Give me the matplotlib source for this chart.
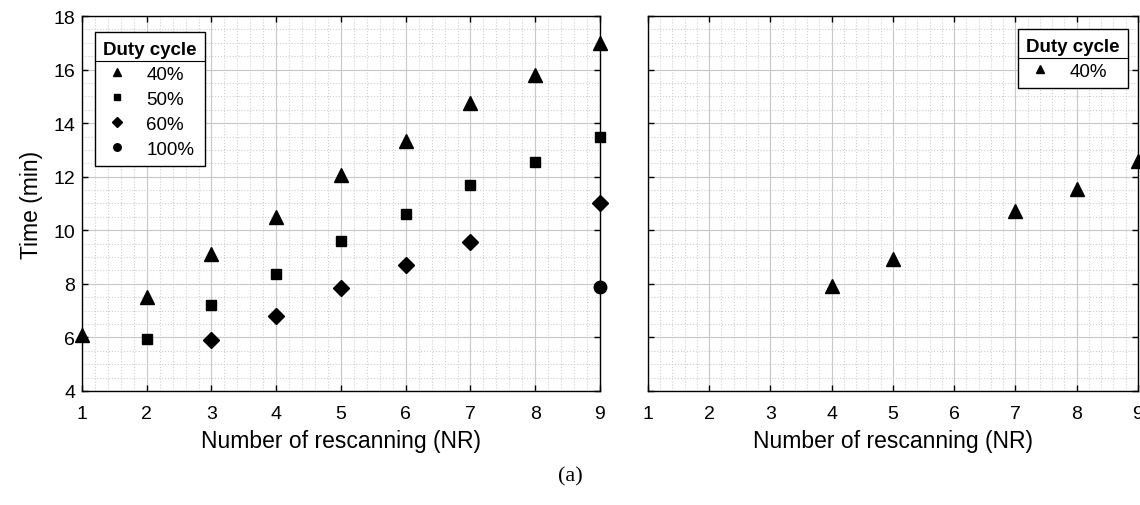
import numpy as np
import matplotlib
matplotlib.use('Agg')
import matplotlib.pyplot as plt
from matplotlib.lines import Line2D
from matplotlib.ticker import MultipleLocator

plt.rcParams['font.family'] = ['Liberation Sans', 'DejaVu Sans']

# left panel data
nr_40 = [1, 2, 3, 4, 5, 6, 7, 8, 9]
t_40 = [6.1, 7.5, 9.1, 10.5, 12.05, 13.35, 14.75, 15.8, 17.0]
nr_50 = [2, 3, 4, 5, 6, 7, 8, 9]
t_50 = [5.95, 7.2, 8.35, 9.6, 10.6, 11.7, 12.55, 13.5]
nr_60 = [3, 4, 5, 6, 7, 9]
t_60 = [5.9, 6.8, 7.85, 8.7, 9.55, 11.0]
nr_100 = [9]
t_100 = [7.9]

# right panel data
nr_right = [4, 5, 7, 8, 9]
t_right = [7.93, 8.93, 10.72, 11.54, 12.59]

labels = ['40%', '50%', '60%', '100%']


def style_axes(ax):
    ax.set_xlim(1, 9)
    ax.set_ylim(4, 18)
    ax.xaxis.set_major_locator(MultipleLocator(1))
    ax.xaxis.set_minor_locator(MultipleLocator(0.2))
    ax.yaxis.set_major_locator(MultipleLocator(2))
    ax.yaxis.set_minor_locator(MultipleLocator(0.5))
    ax.grid(which='major', color='#c8c8c8', linestyle='-', linewidth=0.8)
    ax.grid(which='minor', color='#cfcfcf', linestyle=':', linewidth=0.8)
    ax.set_axisbelow(True)
    ax.tick_params(which='major', direction='in', length=4, width=1,
                   top=True, right=True, labelsize=14)
    ax.tick_params(axis='x', which='major', pad=10)
    ax.tick_params(axis='y', which='major', pad=5)
    ax.tick_params(which='minor', length=0)
    for s in ax.spines.values():
        s.set_linewidth(1.0)
        s.set_color('black')
    ax.set_xlabel('Number of rescanning (NR)', fontsize=16.5, labelpad=5)


def add_sep(fig, leg):
    # line under the legend title, like the MATLAB legend header
    fig.canvas.draw()
    r = fig.canvas.get_renderer()
    lb = leg.get_frame().get_window_extent(r)
    tb = leg.get_title().get_window_extent(r)
    y = tb.y0 - 3
    inv = fig.transFigure.inverted()
    (x0, yy), (x1, _) = inv.transform([(lb.x0, y), (lb.x1, y)])
    fig.add_artist(Line2D([x0, x1], [yy, yy], color='black', lw=0.8))


fig = plt.figure(figsize=(11.4, 5.06), dpi=100)
ax1 = fig.add_axes([0.0719, 0.2253, 0.4544, 0.7411])
ax2 = fig.add_axes([0.5684, 0.2253, 0.4298, 0.7411])

kw = dict(linestyle='none', color='black', clip_on=False, zorder=3)
ax1.plot(nr_40, t_40, marker='^', markersize=10.5, label=labels[0], **kw)
ax1.plot(nr_50, t_50, marker='s', markersize=7, label=labels[1], **kw)
ax1.plot(nr_60, t_60, marker='D', markersize=8, label=labels[2], **kw)
ax1.plot(nr_100, t_100, marker='o', markersize=9, label=labels[3], **kw)
style_axes(ax1)
ax1.set_ylabel('Time (min)', fontsize=16.5, labelpad=7)

ax2.plot(nr_right, t_right, marker='^', markersize=10.5, label=labels[0], **kw)
style_axes(ax2)
ax2.set_yticklabels([])

leg_kw = dict(fontsize=13.5, title='Duty cycle', frameon=True, fancybox=False,
              edgecolor='black', framealpha=1, markerscale=0.6,
              borderaxespad=0, handlelength=1.5, handletextpad=0.8,
              labelspacing=0.42, borderpad=0.45, alignment='left')
leg1 = ax1.legend(loc='upper left', bbox_to_anchor=(0.025, 0.957), **leg_kw)
leg2 = ax2.legend(loc='upper right', bbox_to_anchor=(0.98, 0.965), **leg_kw)
for lg in (leg1, leg2):
    lg.get_title().set_fontweight('bold')
    lg.get_title().set_fontsize(13.5)
    lg.get_frame().set_linewidth(1.0)

fig.text(0.5, 0.057, '(a)', fontsize=16, family='Liberation Serif',
         ha='center', va='center')

add_sep(fig, leg1)
add_sep(fig, leg2)

fig.savefig('out.png', dpi=100)
